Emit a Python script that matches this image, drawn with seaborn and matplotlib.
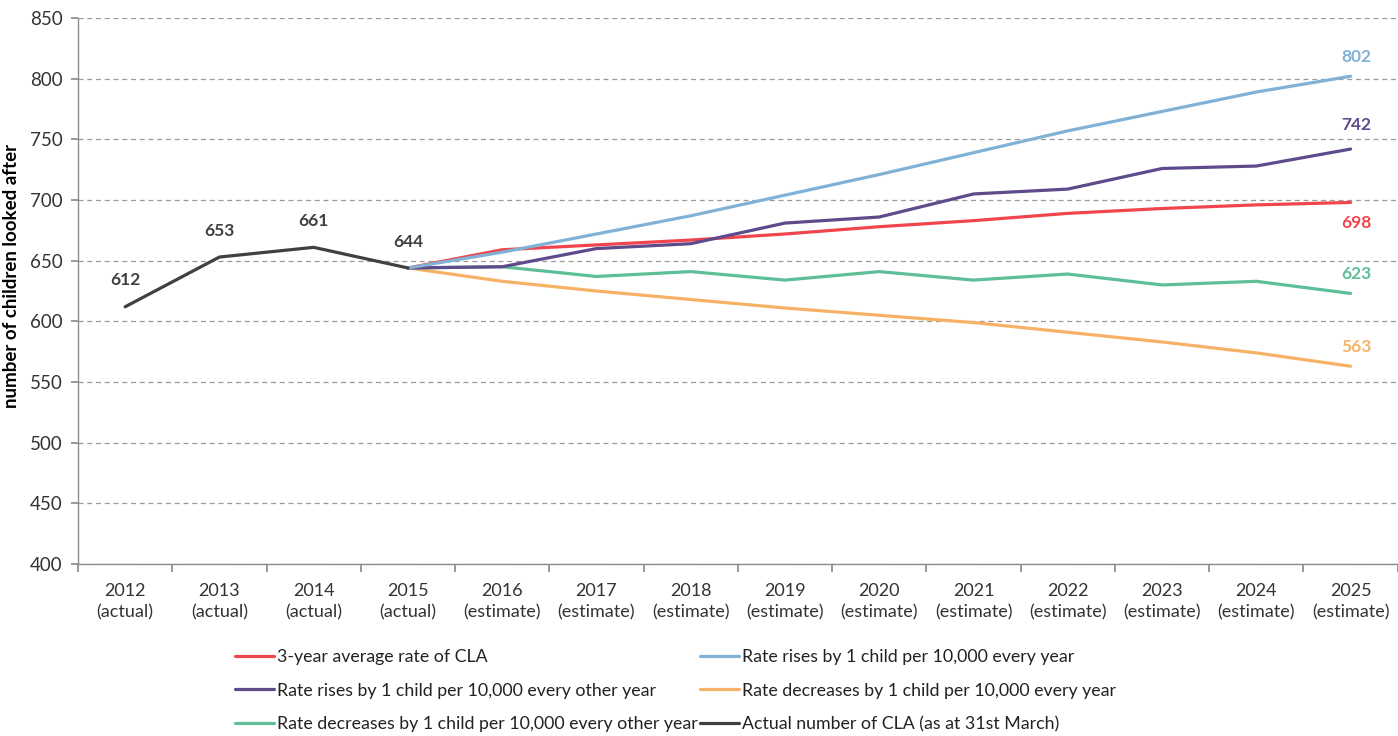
import matplotlib
matplotlib.use("Agg")
import matplotlib.pyplot as plt
import seaborn as sns
import pandas as pd
from matplotlib.lines import Line2D

sns.set_theme(style="white")
plt.rcParams["font.family"] = ["Lato", "DejaVu Sans"]

years = ["2012", "2013", "2014", "2015", "2016", "2017", "2018",
         "2019", "2020", "2021", "2022", "2023", "2024", "2025"]
kinds = ["actual"] * 4 + ["estimate"] * 10
tick_labels = [f"{y}\n({k})" for y, k in zip(years, kinds)]

actual = [612, 653, 661, 644]
avg_rate = [644, 659, 663, 667, 672, 678, 683, 689, 693, 696, 698]
rise_every = [644, 657, 672, 687, 704, 721, 739, 757, 773, 789, 802]
rise_other = [644, 645, 660, 664, 681, 686, 705, 709, 726, 728, 742]
dec_every = [644, 633, 625, 618, 611, 605, 599, 591, 583, 574, 563]
dec_other = [644, 645, 637, 641, 634, 641, 634, 639, 630, 633, 623]

names = [
    "3-year average rate of CLA",
    "Rate rises by 1 child per 10,000 every year",
    "Rate rises by 1 child per 10,000 every other year",
    "Rate decreases by 1 child per 10,000 every year",
    "Rate decreases by 1 child per 10,000 every other year",
    "Actual number of CLA (as at 31st March)",
]
colors = ["#F0454D", "#80B1D6", "#5E4B8C", "#F7B266", "#5DBE98", "#404040"]

rows = []
for name, vals, start in [
    (names[0], avg_rate, 3), (names[1], rise_every, 3), (names[2], rise_other, 3),
    (names[3], dec_every, 3), (names[4], dec_other, 3), (names[5], actual, 0),
]:
    for i, v in enumerate(vals):
        rows.append({"series": name, "x": start + i, "value": v})
df = pd.DataFrame(rows)

fig = plt.figure(figsize=(13.98, 7.36), dpi=100)
ax = fig.add_axes([0.0558, 0.2337, 0.944, 0.7418])

ax.yaxis.grid(True, linestyle=(0, (4, 3)), color="#9a9a9a", linewidth=0.9)
ax.set_axisbelow(True)

LW = 2.3
draw_order = [names[3], names[4], names[0], names[2], names[1], names[5]]
for name in draw_order:
    sub = df[df["series"] == name]
    sns.lineplot(data=sub, x="x", y="value", ax=ax, color=colors[names.index(name)],
                 linewidth=LW, sort=False, legend=False)

# labels on the actual values
for i, v in enumerate(actual):
    ax.annotate(str(v), (i, v), xytext=(0, 19), textcoords="offset points",
                ha="center", va="center", fontsize=12.5, fontweight="bold", color="#404040")

# end-of-series labels
end_labels = [
    (rise_every, 1, 14), (rise_other, 2, 17), (avg_rate, 0, -15),
    (dec_other, 4, 14), (dec_every, 3, 14),
]
for vals, ci, dy in end_labels:
    v = vals[-1]
    ax.annotate(str(v), (13, v), xytext=(4, dy), textcoords="offset points",
                ha="center", va="center", fontsize=12.5, fontweight="bold", color=colors[ci])

ax.set_xlim(-0.5, 13.5)
ax.set_ylim(400, 850)
ax.set_yticks(range(400, 851, 50))
ax.tick_params(axis="y", labelsize=13.5, colors="#333333", length=5, direction="out",
               left=True, color="#8c8c8c", pad=6)
ax.set_xticks([i - 0.5 for i in range(15)])
ax.set_xticklabels([])
ax.set_xticks(range(14), minor=True)
ax.set_xticklabels(tick_labels, minor=True, fontsize=13, color="#333333", linespacing=1.4)
ax.tick_params(axis="x", which="major", length=6, direction="out", bottom=True, color="#8c8c8c")
ax.tick_params(axis="x", which="minor", length=0, pad=14)

for side in ["top", "right"]:
    ax.spines[side].set_visible(False)
for side in ["left", "bottom"]:
    ax.spines[side].set_color("#8c8c8c")
    ax.spines[side].set_linewidth(1.0)

ax.set_xlabel("")
ax.set_ylabel("number of children looked after", fontsize=13.5, fontweight="bold",
              color="#000000")
ax.yaxis.set_label_coords(-0.044, 0.527)

handles = [Line2D([0], [0], color=c, linewidth=LW) for c in colors]
order = [0, 2, 4, 1, 3, 5]
leg = fig.legend([handles[i] for i in order], [names[i] for i in order],
                 ncol=2, loc="upper left", bbox_to_anchor=(0.157, 0.14),
                 frameon=False, fontsize=12.75, handlelength=2.2, handletextpad=0.15,
                 columnspacing=0.12, labelspacing=1.0)
for t in leg.get_texts():
    t.set_color("#222222")

fig.savefig("out.png", dpi=100)
